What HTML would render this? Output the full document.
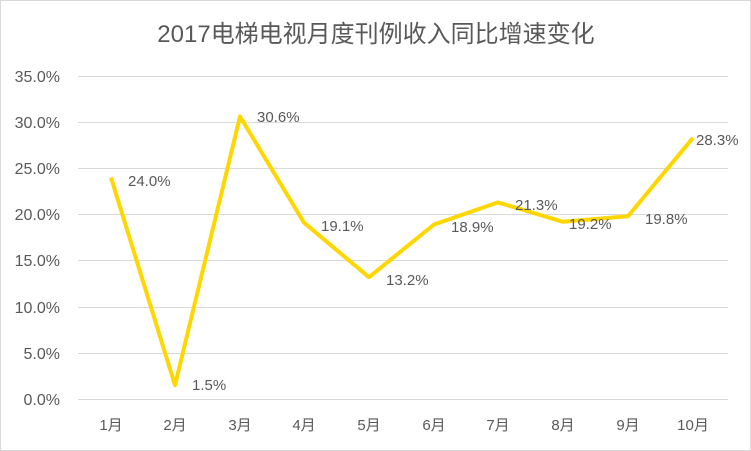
<!DOCTYPE html>
<html><head><meta charset="utf-8"><style>
body{margin:0;background:#fff}
svg{display:block}
text{font-family:"Liberation Sans","Noto Sans CJK SC",sans-serif;fill:#595959}
</style></head><body>
<svg width="751" height="451" viewBox="0 0 751 451">
<rect x="0.5" y="0.5" width="750" height="450" fill="#fff" stroke="#d9d9d9"/>
<text x="376" y="42" font-size="24" text-anchor="middle">2017电梯电视月度刊例收入同比增速变化</text>
<g stroke="#d9d9d9" stroke-width="1">
<line x1="78" x2="728" y1="76.5" y2="76.5"/>
<line x1="78" x2="728" y1="122.5" y2="122.5"/>
<line x1="78" x2="728" y1="168.5" y2="168.5"/>
<line x1="78" x2="728" y1="214.5" y2="214.5"/>
<line x1="78" x2="728" y1="260.5" y2="260.5"/>
<line x1="78" x2="728" y1="307.5" y2="307.5"/>
<line x1="78" x2="728" y1="353.5" y2="353.5"/>
<line x1="78" x2="728" y1="399.5" y2="399.5"/>
</g>
<g font-size="16" text-anchor="end">
<text x="60" y="82">35.0%</text>
<text x="60" y="128">30.0%</text>
<text x="60" y="174">25.0%</text>
<text x="60" y="220">20.0%</text>
<text x="60" y="266">15.0%</text>
<text x="60" y="313">10.0%</text>
<text x="60" y="359">5.0%</text>
<text x="60" y="405">0.0%</text>
</g>
<g font-size="15" text-anchor="middle">
<text x="111" y="430">1月</text><text x="175" y="430">2月</text><text x="240" y="430">3月</text>
<text x="304" y="430">4月</text><text x="369" y="430">5月</text><text x="434" y="430">6月</text>
<text x="498" y="430">7月</text><text x="563" y="430">8月</text><text x="628" y="430">9月</text>
<text x="693" y="430">10月</text>
</g>
<polyline fill="none" stroke="#ffd700" stroke-width="4" stroke-linejoin="round" points="111,177.5 175,385.2 240,116.5 304,222.7 369,277.2 434,224.5 498,202.4 563,221.8 628,216.2 693,137.8"/>
<g font-size="15" fill="#404040">
<text x="128" y="186">24.0%</text>
<text x="192" y="390">1.5%</text>
<text x="257" y="122">30.6%</text>
<text x="321" y="231">19.1%</text>
<text x="386" y="285">13.2%</text>
<text x="451" y="232">18.9%</text>
<text x="515" y="210">21.3%</text>
<text x="569" y="229">19.2%</text>
<text x="645" y="224">19.8%</text>
<text x="696" y="145">28.3%</text>
</g>
</svg>
</body></html>
